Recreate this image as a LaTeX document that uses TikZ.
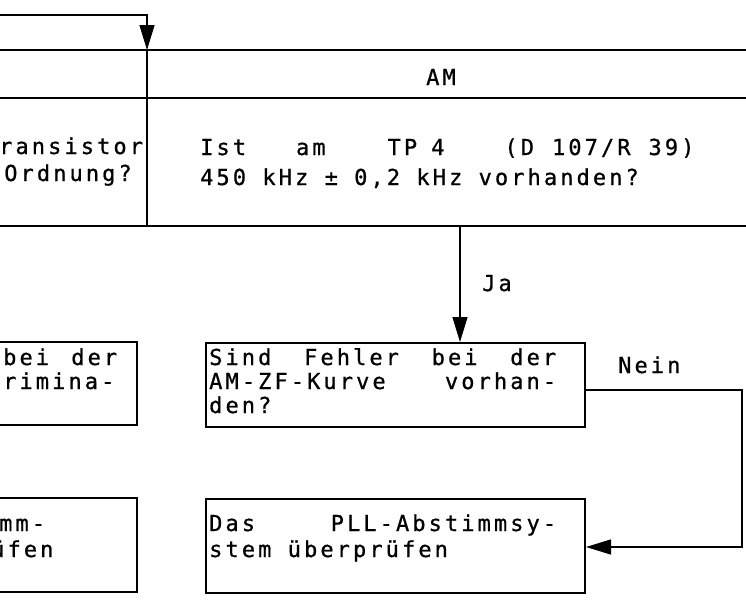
\documentclass[tikz,border=0pt]{standalone}
\usepackage{fontspec}
\usetikzlibrary{arrows.meta}
\newfontfamily\tw[LetterSpace=14,FakeBold=0.8]{DejaVu Sans Mono}
\begin{document}
\begin{tikzpicture}[x=1pt,y=-1pt,
  heavy/.style={line width=2pt},
  conn/.style={line width=1.4pt},
  arr/.style={-{Triangle[length=25pt,width=15pt]}},
  boxx/.style={draw,line width=2pt,inner sep=0pt},
  txt/.style={anchor=base west,inner sep=0pt,font=\tw\fontsize{22}{26}\selectfont},
  txtr/.style={txt,anchor=base east}]
\useasboundingbox (0,0) rectangle (746,605);
\clip (0,0) rectangle (746,605);
% table lines
\coordinate (tl) at (0,15);
\coordinate (tc) at (147,15);
\coordinate (h1l) at (0,50);
\coordinate (h1c) at (147,50);
\coordinate (h1r) at (746,50);
\coordinate (h2l) at (0,98);
\coordinate (h2r) at (746,98);
\coordinate (h3l) at (0,226);
\coordinate (h3c) at (147,226);
\coordinate (h3r) at (746,226);
\coordinate (ja) at (460,226);
\draw[conn,arr] (tl) -- (tc) -- (h1c);
\draw[heavy] (h1l) -- (h1r);
\draw[heavy] (h2l) -- (h2r);
\draw[heavy] (h1c) -- (h3c);
\draw[heavy] (h3l) -- (h3r);
\node[txt,anchor=base] (am) at (441,85) {AM};
\node[txt] (l1) at (-1,154) {ransistor};
\node[txtr] (l2) at (132,181) {Ordnung?};
\node[txt] (r1) at (200,155) {Ist\hspace{50pt}am\hspace{62pt}TP\hspace{14pt}4\hspace{60pt}(D\hspace{18pt}107/R\hspace{18pt}39)};
\node[txt] (r2) at (200,185) {450 kHz ± 0,2 kHz vorhanden?};
% boxes
\node[boxx,minimum width=379pt,minimum height=84pt,anchor=north west] (b1) at (205,342) {};
\node[boxx,minimum width=379pt,minimum height=94pt,anchor=north west] (b2) at (205,498) {};
\node[boxx,minimum width=160pt,minimum height=83pt,anchor=north east] (lb1) at (138,341) {};
\node[boxx,minimum width=160pt,minimum height=94pt,anchor=north east] (lb2) at (138,497) {};
\node[txt] (b1a) at (209,365) {\makebox[347pt][s]{Sind Fehler bei der}};
\node[txt] (b1b) at (209,389) {\makebox[347pt][s]{AM-ZF-Kurve vorhan-}};
\node[txt] (b1c) at (209,413) {den?};
\node[txt] (b2a) at (209,531) {\makebox[347pt][s]{Das PLL-Abstimmsy-}};
\node[txt] (b2b) at (209,557) {stem überprüfen};
\node[txt] (lb1a) at (3,365) {\makebox[114pt][s]{bei der}};
\node[txt] (lb1b) at (3,389) {rimina-};
\node[txt] (lb2a) at (-1,531) {mm-};
\node[txt] (lb2b) at (-9,557) {üfen};
% connectors
\draw[conn,arr] (ja) -- (ja |- b1.north);
\node[txt] (jal) at (482,291) {Ja};
\coordinate (n1) at (742,390);
\coordinate (n2) at (742,547);
\draw[conn,arr] (b1.east |- n1) -- (n1) -- (n2) -- (b2.east |- n2);
\node[txt] (nl) at (618,373) {Nein};
\end{tikzpicture}
\end{document}
